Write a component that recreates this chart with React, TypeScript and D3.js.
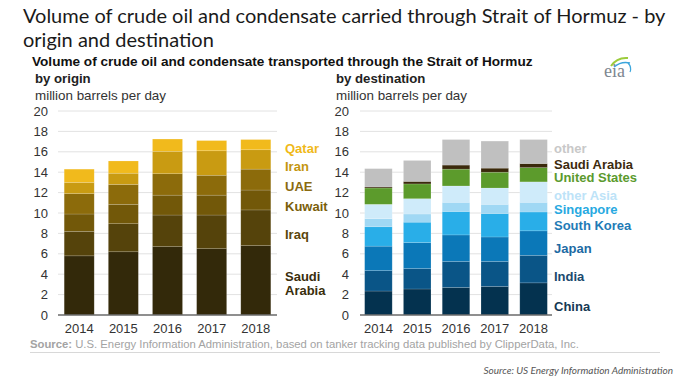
import { useMemo } from 'react';
import * as d3 from 'd3';

const W = 700;
const H = 386;

const years = ['2014', '2015', '2016', '2017', '2018'];
const yTicks = [0, 2, 4, 6, 8, 10, 12, 14, 16, 18, 20];

// by origin, million b/d (bottom to top)
const originKeys = ['Saudi Arabia', 'Iraq', 'Kuwait', 'UAE', 'Iran', 'Qatar'];
const saudiOrigin = [5.8, 6.2, 6.7, 6.5, 6.8];
const iraq = [2.4, 2.75, 3.1, 3.3, 3.5];
const kuwait = [1.7, 1.9, 1.95, 1.95, 1.95];
const uae = [2.0, 1.95, 2.1, 1.95, 2.05];
const iran = [1.1, 1.1, 2.2, 2.4, 1.9];
const qatar = [1.3, 1.2, 1.2, 1.0, 1.0];
const originColors = ['#33290a', '#55430b', '#725809', '#8c6b0b', '#c99b12', '#f1ba1c'];
const originLabelColors = ['#3a2e0c', '#5a470c', '#7a5e0a', '#8a6a10', '#c4960f', '#f0b91a'];
// where each legend label sits, in value units
const originLabelAt = [3.1, 7.9, 10.6, 12.6, 14.6, 16.3];

// by destination, million b/d (bottom to top)
const destKeys = ['China', 'India', 'Japan', 'South Korea', 'Singapore', 'other Asia', 'United States', 'Saudi Arabia', 'other'];
const china = [2.35, 2.55, 2.7, 2.8, 3.15];
const india = [2.0, 2.0, 2.55, 2.45, 2.7];
const japan = [2.4, 2.55, 2.6, 2.4, 2.4];
const southKorea = [1.9, 2.0, 2.3, 2.3, 1.85];
const singapore = [0.8, 0.8, 0.9, 0.9, 0.95];
const otherAsia = [1.4, 1.5, 1.6, 1.6, 2.0];
const unitedStates = [1.6, 1.45, 1.65, 1.55, 1.4];
const saudiDest = [0.1, 0.25, 0.4, 0.4, 0.4];
const otherDest = [1.8, 2.05, 2.5, 2.65, 2.35];
const destColors = ['#04324f', '#0a5587', '#0b78b8', '#29aee8', '#a0d8f4', '#cfebfa', '#5c9b2c', '#3a290b', '#c0c0c0'];
const destLabelColors = ['#153954', '#1b4a6e', '#1d6aa3', '#1f7bb6', '#27a9e1', '#bde3f8', '#5b9a2e', '#3d2b0e', '#c8c8c8'];
const destLabelAt = [0.8, 3.8, 6.5, 8.8, 10.3, 11.7, 13.45, 14.8, 16.3];

const ARIAL = '"Liberation Sans", Arial, sans-serif';

function toRows(keys: string[], series: number[][]) {
  return years.map((yr, i) => {
    const row: Record<string, number | string> = { year: yr };
    keys.forEach((k, j) => (row[k] = series[j][i]));
    return row;
  });
}

interface PanelProps {
  x0: number;
  x1: number;
  labelRight: number;
  heading: string;
  keys: string[];
  series: number[][];
  colors: string[];
  labelColors: string[];
  labelAt: number[];
  labelX: number;
  padInner: number;
  padOuter: number;
}

function Panel(p: PanelProps) {
  const y = d3.scaleLinear().domain([0, 20]).range([315, 111]);
  const x = d3.scaleBand<string>().domain(years).range([p.x0, p.x1]).paddingInner(p.padInner).paddingOuter(p.padOuter);
  const stacked = useMemo(
    () => d3.stack<Record<string, number | string>>().keys(p.keys).value((d, k) => d[k] as number)(toRows(p.keys, p.series)),
    [p.keys, p.series]
  );
  const headX = p.labelRight - 13;
  return (
    <g>
      <text x={headX} y={83} fontFamily={ARIAL} fontWeight="bold" fontSize={13.2} fill="#222">{p.heading}</text>
      <text x={headX} y={99.5} fontFamily={ARIAL} fontSize={13.4} fill="#333">million barrels per day</text>
      {yTicks.map((t) => (
        <g key={t}>
          {t > 0 && <line x1={p.x0} x2={p.x1} y1={y(t)} y2={y(t)} stroke="#e2e2e2" strokeWidth={1} />}
          <text x={p.labelRight} y={y(t)} dy="0.35em" textAnchor="end" fontFamily={ARIAL} fontSize={13} fill="#333">{t}</text>
        </g>
      ))}
      {stacked.map((s, j) => (
        <g key={s.key} fill={p.colors[j]}>
          {s.map((d, i) => (
            <rect key={i} x={x(years[i])} width={x.bandwidth()} y={y(d[1])} height={y(d[0]) - y(d[1])}
              stroke="rgba(255,255,255,0.25)" strokeWidth={0.6} />
          ))}
        </g>
      ))}
      <line x1={p.x0} x2={p.x1} y1={y(0)} y2={y(0)} stroke="#6a6a6a" strokeWidth={1.6} />
      {years.map((yr) => (
        <text key={yr} x={(x(yr) ?? 0) + x.bandwidth() / 2} y={333} textAnchor="middle" fontFamily={ARIAL} fontSize={13} fill="#333">{yr}</text>
      ))}
      {p.keys.map((k, j) => {
        const lines = p.keys.length === 6 && k === 'Saudi Arabia' ? ['Saudi', 'Arabia'] : [k];
        const cy = y(p.labelAt[j]);
        return (
          <text key={k} x={p.labelX} y={cy - (lines.length - 1) * 7} fontFamily={ARIAL} fontWeight="bold" fontSize={13} fill={p.labelColors[j]}>
            {lines.map((ln, li) => (
              <tspan key={li} x={p.labelX} dy={li === 0 ? '0.35em' : 14}>{ln}</tspan>
            ))}
          </text>
        );
      })}
    </g>
  );
}

export default function App() {
  return (
    <div style={{ position: 'absolute', left: 0, top: 0, width: W, height: H, background: '#fff' }}>
      <svg width={W} height={H} style={{ display: 'block' }}>
        <rect width={W} height={H} fill="#fff" />
        <text x={23} y={23} fontFamily="Lato, sans-serif" fontSize={20} fill="#1a1a1a">
          Volume of crude oil and condensate carried through Strait of Hormuz - by
        </text>
        <text x={23} y={47} fontFamily="Lato, sans-serif" fontSize={20} fill="#1a1a1a">
          origin and destination
        </text>
        <text x={32} y={66} fontFamily={ARIAL} fontWeight="bold" fontSize={13.6} fill="#111">
          Volume of crude oil and condensate transported through the Strait of Hormuz
        </text>

        {/* eia logo */}
        <g>
          <path d="M611,66 Q617,57 628,58" fill="none" stroke="#9ccc3c" strokeWidth={2} />
          <path d="M614,67 Q621,61 630,63" fill="none" stroke="#3aa6dd" strokeWidth={1.6} />
          <path d="M628,63 Q632,67 630,72" fill="none" stroke="#3aa6dd" strokeWidth={1.2} />
          <text x={604} y={77} fontFamily='"Liberation Serif", serif' fontSize={18} fill="#7d8790">eia</text>
        </g>

        <Panel x0={58} x1={277} labelRight={48} heading="by origin" keys={originKeys}
          series={[saudiOrigin, iraq, kuwait, uae, iran, qatar]} colors={originColors}
          labelColors={originLabelColors} labelAt={originLabelAt} labelX={285} padInner={0.32} padOuter={0.14} />
        <Panel x0={360} x1={552} labelRight={349} heading="by destination" keys={destKeys}
          series={[china, india, japan, southKorea, singapore, otherAsia, unitedStates, saudiDest, otherDest]}
          colors={destColors} labelColors={destLabelColors} labelAt={destLabelAt} labelX={554} padInner={0.29} padOuter={0.12} />

        <text x={30} y={348} fontFamily={ARIAL} fontSize={11.3} fill="#a3a3a3">
          <tspan fontWeight="bold">Source:</tspan> U.S. Energy Information Administration, based on tanker tracking data published by ClipperData, Inc.
        </text>
        <line x1={30} x2={660} y1={352.5} y2={352.5} stroke="#d8d8d8" strokeWidth={1} />
        <text x={673} y={374} textAnchor="end" fontFamily="Lato, sans-serif" fontStyle="italic" fontSize={10} fill="#555">
          Source: US Energy Information Administration
        </text>
      </svg>
    </div>
  );
}
